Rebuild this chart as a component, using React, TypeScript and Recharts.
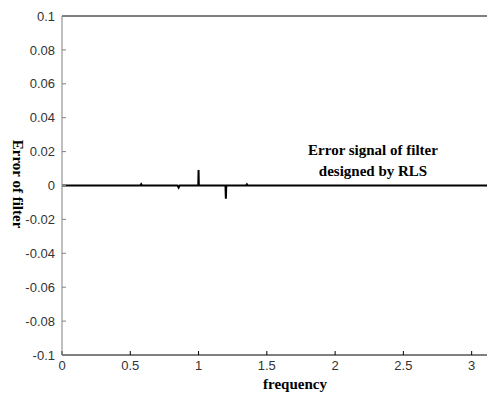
import React from 'react';
import { LineChart, Line, XAxis, YAxis } from 'recharts';

const freq = [0, 0.574, 0.58, 0.586, 0.846, 0.854, 0.862, 0.998, 1.0, 1.002, 1.197, 1.2, 1.203, 1.348, 1.354, 1.36, Math.PI];
const err = [0, 0, 0.0008, 0, 0, -0.0012, 0, 0, 0.0092, 0, 0, -0.0078, 0, 0, 0.0007, 0, 0];

const xTicks = [0, 0.5, 1, 1.5, 2, 2.5, 3];
const xTickLabels = ['0', '0.5', '1', '1.5', '2', '2.5', '3'];
const yTicks = [-0.1, -0.08, -0.06, -0.04, -0.02, 0, 0.02, 0.04, 0.06, 0.08, 0.1];
const yTickLabels = ['-0.1', '-0.08', '-0.06', '-0.04', '-0.02', '0', '0.02', '0.04', '0.06', '0.08', '0.1'];

const data = freq.map((f, i) => ({ f, e: err[i] }));

const tickFont = { fontFamily: '"Liberation Sans", Arial, sans-serif', fontSize: 13, fill: '#333' };
const titleFont = { fontFamily: '"Liberation Serif", "Times New Roman", serif', fontSize: 15, fontWeight: 700, fill: '#000' };

export default function App() {
  return (
    <div style={{ position: 'absolute', left: 0, top: 0, width: 487, height: 399, overflow: 'hidden', background: '#fff' }}>
      <LineChart width={500} height={399} data={data} margin={{ top: 0, right: 0, bottom: 0, left: 0 }}>
        <XAxis
          xAxisId="b"
          dataKey="f"
          type="number"
          domain={[0, Math.PI]}
          ticks={xTicks}
          interval={0}
          height={44}
          tickSize={-4}
          tickMargin={10}
          tick={tickFont}
          tickFormatter={(v: number) => xTickLabels[xTicks.indexOf(v)]}
          axisLine={{ stroke: '#000' }}
          tickLine={{ stroke: '#000' }}
        />
        <XAxis
          xAxisId="t"
          orientation="top"
          dataKey="f"
          type="number"
          domain={[0, Math.PI]}
          ticks={xTicks}
          interval={0}
          height={16}
          tickSize={-4}
          tick={false}
          axisLine={{ stroke: '#000' }}
          tickLine={{ stroke: '#000' }}
        />
        <YAxis
          yAxisId="l"
          type="number"
          domain={[-0.1, 0.1]}
          ticks={yTicks}
          interval={0}
          width={62}
          tickSize={-4}
          tickMargin={11}
          tick={tickFont}
          tickFormatter={(v: number) => yTickLabels[yTicks.indexOf(v)]}
          axisLine={{ stroke: '#808080' }}
          tickLine={{ stroke: '#808080' }}
        />
        <YAxis
          yAxisId="r"
          orientation="right"
          type="number"
          domain={[-0.1, 0.1]}
          ticks={yTicks}
          interval={0}
          width={9}
          tickSize={-4}
          tick={false}
          axisLine={{ stroke: '#000' }}
          tickLine={{ stroke: '#000' }}
        />
        <Line
          xAxisId="b"
          yAxisId="l"
          type="linear"
          dataKey="e"
          stroke="#000"
          strokeWidth={2}
          dot={false}
          isAnimationActive={false}
        />
        <text x={295} y={389} textAnchor="middle" style={titleFont}>frequency</text>
        <text x={13} y={184} textAnchor="middle" transform="rotate(90 13 184)" style={titleFont}>Error of filter</text>
        <text x={373} y={155} textAnchor="middle" style={titleFont}>Error signal of filter</text>
        <text x={373} y={176} textAnchor="middle" style={titleFont}>designed by RLS</text>
      </LineChart>
    </div>
  );
}
